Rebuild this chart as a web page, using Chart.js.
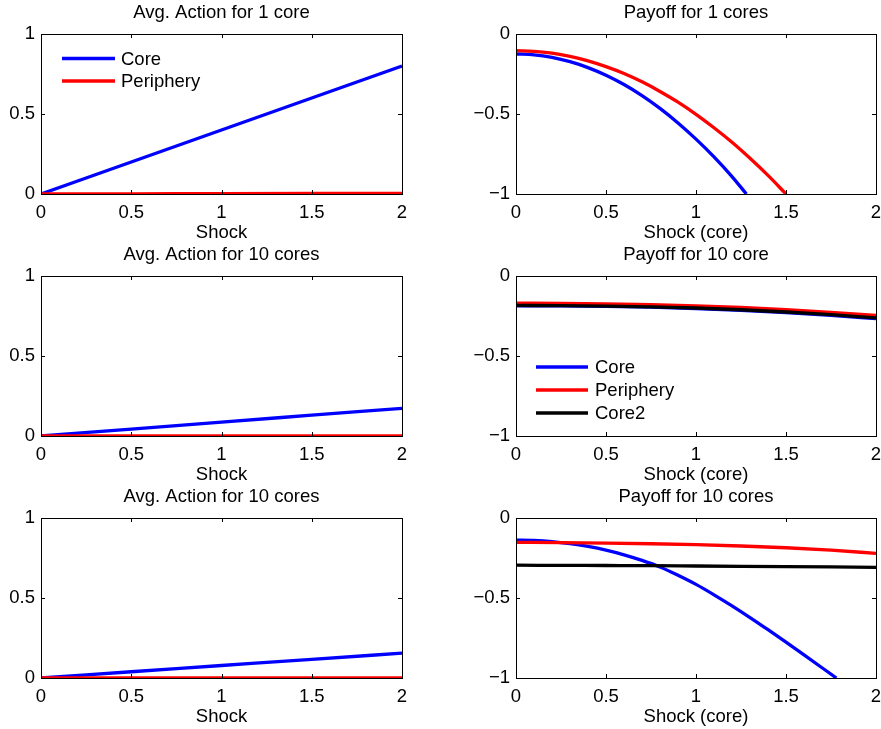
<!DOCTYPE html>
<html><head><meta charset="utf-8">
<script src="https://cdn.jsdelivr.net/npm/chart.js@4.4.0/dist/chart.umd.min.js"></script>
<style>
html,body{margin:0;padding:0;background:#fff;overflow:hidden;width:881px;height:729px;position:relative;}
canvas{position:absolute;}
</style></head><body>
<canvas id="c1" width="440" height="246" style="left:0;top:0"></canvas>
<canvas id="c2" width="441" height="246" style="left:440px;top:0"></canvas>
<canvas id="c3" width="440" height="246" style="left:0;top:242px"></canvas>
<canvas id="c4" width="441" height="246" style="left:440px;top:242px"></canvas>
<canvas id="c5" width="440" height="246" style="left:0;top:484px"></canvas>
<canvas id="c6" width="441" height="246" style="left:440px;top:484px"></canvas>
<script>
// ---------- data ----------
const shockTicks = [0, 0.5, 1, 1.5, 2];

// Avg. Action for 1 core
const a1Core = [0, 0.2, 0.4, 0.6, 0.8];
const a1Periphery = [0, 0.001, 0.002, 0.003, 0.004];

// Payoff for 1 cores
const p1CoreShock = [0, 0.1, 0.2, 0.3, 0.4, 0.5, 0.6, 0.7, 0.8, 0.9, 1.0, 1.1, 1.2, 1.28];
const p1Core = [-0.125, -0.130, -0.146, -0.173, -0.210, -0.258, -0.316, -0.385, -0.465, -0.556, -0.657, -0.768, -0.891, -1.0];
const p1PeripheryShock = [0, 0.1, 0.2, 0.3, 0.4, 0.5, 0.6, 0.7, 0.8, 0.9, 1.0, 1.1, 1.2, 1.3, 1.4, 1.5];
const p1Periphery = [-0.104, -0.108, -0.120, -0.140, -0.168, -0.204, -0.247, -0.299, -0.359, -0.426, -0.502, -0.586, -0.677, -0.777, -0.884, -1.0];

// Avg. Action for 10 cores (middle)
const a2Core = [0, 0.043, 0.087, 0.130, 0.173];
const a2Periphery = [0, 0, 0, 0, 0];

// Payoff for 10 core (middle)
const p2Shock = [0, 0.25, 0.5, 0.75, 1.0, 1.25, 1.5, 1.75, 2.0];
const p2Core = [-0.186, -0.187, -0.190, -0.195, -0.203, -0.214, -0.228, -0.246, -0.267];
const p2Periphery = [-0.170, -0.171, -0.174, -0.179, -0.187, -0.197, -0.211, -0.228, -0.247];
const p2Core2 = [-0.184, -0.185, -0.188, -0.193, -0.200, -0.211, -0.225, -0.242, -0.262];

// Avg. Action for 10 cores (bottom)
const a3Core = [0, 0.039, 0.078, 0.117, 0.155];
const a3Periphery = [0, 0, 0, 0, 0];

// Payoff for 10 cores (bottom)
const p3CoreShock = [0, 0.1, 0.2, 0.3, 0.4, 0.5, 0.6, 0.7, 0.8, 0.9, 1.0, 1.1, 1.2, 1.3, 1.4, 1.5, 1.6, 1.7, 1.78];
const p3Core = [-0.138, -0.140, -0.147, -0.160, -0.178, -0.201, -0.230, -0.265, -0.306, -0.358, -0.415, -0.480, -0.549, -0.622, -0.698, -0.776, -0.856, -0.936, -1.0];
const p3Shock = [0, 0.25, 0.5, 0.75, 1.0, 1.25, 1.5, 1.75, 2.0];
const p3Periphery = [-0.152, -0.154, -0.157, -0.161, -0.167, -0.175, -0.186, -0.201, -0.221];
const p3Core2 = [-0.295, -0.296, -0.297, -0.298, -0.300, -0.302, -0.304, -0.306, -0.308];

// ---------- drawing ----------
const FONT = {family: "'Liberation Sans', Arial, Helvetica, sans-serif", size: 18.5, weight: 'normal'};
const BLUE = '#0000ff', RED = '#ff0000', BLACK = '#000000';
const LINE_W = 3.3;

const boxPlugin = {
  id: 'matlabBox',
  afterDatasetsDraw(chart) {
    const {ctx, chartArea: a, scales} = chart;
    ctx.save();
    ctx.strokeStyle = '#000';
    ctx.lineWidth = 1;
    ctx.beginPath();
    const L = 4;
    scales.x.ticks.forEach(t => {
      const px = Math.round(scales.x.getPixelForValue(t.value)) + 0.5;
      ctx.moveTo(px, a.bottom); ctx.lineTo(px, a.bottom - L);
      ctx.moveTo(px, a.top); ctx.lineTo(px, a.top + L);
    });
    scales.y.ticks.forEach(t => {
      const py = Math.round(scales.y.getPixelForValue(t.value)) + 0.5;
      ctx.moveTo(a.left, py); ctx.lineTo(a.left + L, py);
      ctx.moveTo(a.right, py); ctx.lineTo(a.right - L, py);
    });
    ctx.stroke();
    ctx.strokeRect(Math.round(a.left) + 0.5, Math.round(a.top) + 0.5, Math.round(a.right - a.left), Math.round(a.bottom - a.top));
    ctx.restore();
  }
};

const legendPlugin = {
  id: 'innerLegend',
  afterDraw(chart, args, opts) {
    if (!opts || !opts.show) return;
    const {ctx, chartArea: a} = chart;
    ctx.save();
    ctx.font = FONT.size + 'px ' + FONT.family;
    ctx.textBaseline = 'middle';
    ctx.textAlign = 'left';
    chart.data.datasets.forEach((ds, i) => {
      const y = a.top + opts.y + i * opts.dy;
      ctx.strokeStyle = ds.borderColor;
      ctx.lineWidth = LINE_W;
      ctx.beginPath();
      ctx.moveTo(a.left + opts.x0, y);
      ctx.lineTo(a.left + opts.x1, y);
      ctx.stroke();
      ctx.fillStyle = '#000';
      ctx.fillText(ds.label, a.left + opts.tx, y + 1);
    });
    ctx.restore();
  }
};

function fmt(v) { return String(v).replace('-', '\u2212'); }

function makeChart(id, cfg) {
  const n = cfg.series.length;
  new Chart(document.getElementById(id), {
    type: 'line',
    data: {
      datasets: cfg.series.map((s, i) => ({
        label: s.label,
        data: s.x.map((x, j) => ({x: x, y: s.y[j]})),
        borderColor: s.color,
        backgroundColor: s.color,
        borderWidth: LINE_W,
        pointRadius: 0,
        fill: false,
        cubicInterpolationMode: 'monotone',
        order: n - i
      }))
    },
    options: {
      responsive: false,
      animation: false,
      devicePixelRatio: 1,
      layout: {padding: {left: 0, right: cfg.padRight, top: 0, bottom: 0}},
      plugins: {
        legend: {display: false},
        tooltip: {enabled: false},
        title: {display: true, text: cfg.title, fullSize: false, color: '#000', font: FONT, padding: {top: 2.2, bottom: 9.6}},
        innerLegend: cfg.legend || {show: false}
      },
      scales: {
        x: {
          type: 'linear', min: 0, max: 2,
          afterBuildTicks: s => { s.ticks = shockTicks.map(v => ({value: v})); },
          ticks: {color: '#000', font: FONT, padding: 8, maxRotation: 0, autoSkip: false, callback: v => fmt(v)},
          grid: {display: false, drawTicks: false},
          border: {display: false},
          title: {display: true, text: cfg.xTitle, color: '#000', font: FONT, padding: {top: 0, bottom: 1.9}},
          afterFit: s => { s.height = 52; s.paddingLeft = 0; s.paddingRight = 0; }
        },
        y: {
          type: 'linear', min: cfg.ymin, max: cfg.ymax,
          ticks: {stepSize: 0.5, color: '#000', font: FONT, padding: 6, callback: v => fmt(v)},
          grid: {display: false, drawTicks: false},
          border: {display: false},
          afterFit: s => { s.width = cfg.yWidth; s.paddingTop = 0; s.paddingBottom = 0; }
        }
      }
    },
    plugins: [boxPlugin, legendPlugin]
  });
}

const LEFT = {padRight: 38, yWidth: 41, ymin: 0, ymax: 1, xTitle: 'Shock'};
const RIGHT = {padRight: 5, yWidth: 76, ymin: -1, ymax: 0, xTitle: 'Shock (core)'};

makeChart('c1', Object.assign({}, LEFT, {
  title: 'Avg. Action for 1 core',
  series: [
    {label: 'Core', x: shockTicks, y: a1Core, color: BLUE},
    {label: 'Periphery', x: shockTicks, y: a1Periphery, color: RED}
  ],
  legend: {show: true, x0: 21, x1: 74, tx: 80, y: 24.5, dy: 22.5}
}));

makeChart('c2', Object.assign({}, RIGHT, {
  title: 'Payoff for 1 cores',
  series: [
    {label: 'Core', x: p1CoreShock, y: p1Core, color: BLUE},
    {label: 'Periphery', x: p1PeripheryShock, y: p1Periphery, color: RED}
  ]
}));

makeChart('c3', Object.assign({}, LEFT, {
  title: 'Avg. Action for 10 cores',
  series: [
    {label: 'Core', x: shockTicks, y: a2Core, color: BLUE},
    {label: 'Periphery', x: shockTicks, y: a2Periphery, color: RED}
  ]
}));

makeChart('c4', Object.assign({}, RIGHT, {
  title: 'Payoff for 10 core',
  series: [
    {label: 'Core', x: p2Shock, y: p2Core, color: BLUE},
    {label: 'Periphery', x: p2Shock, y: p2Periphery, color: RED},
    {label: 'Core2', x: p2Shock, y: p2Core2, color: BLACK}
  ],
  legend: {show: true, x0: 20, x1: 72, tx: 79, y: 91, dy: 23}
}));

makeChart('c5', Object.assign({}, LEFT, {
  title: 'Avg. Action for 10 cores',
  series: [
    {label: 'Core', x: shockTicks, y: a3Core, color: BLUE},
    {label: 'Periphery', x: shockTicks, y: a3Periphery, color: RED}
  ]
}));

makeChart('c6', Object.assign({}, RIGHT, {
  title: 'Payoff for 10 cores',
  series: [
    {label: 'Core', x: p3CoreShock, y: p3Core, color: BLUE},
    {label: 'Periphery', x: p3Shock, y: p3Periphery, color: RED},
    {label: 'Core2', x: p3Shock, y: p3Core2, color: BLACK}
  ]
}));
</script>
</body></html>
